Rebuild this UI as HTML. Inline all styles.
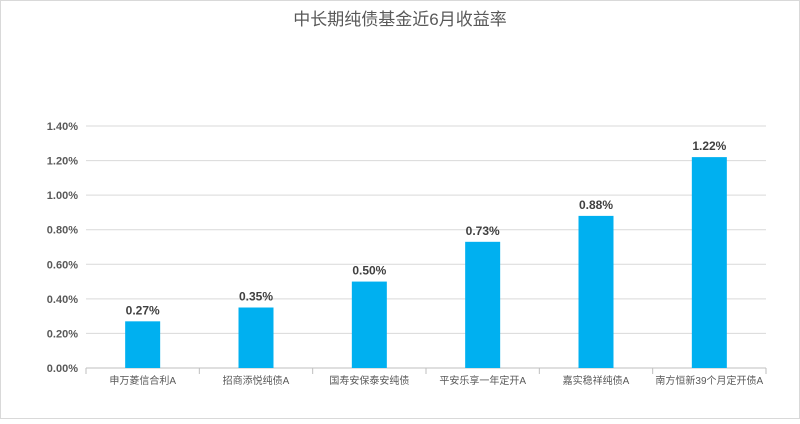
<!DOCTYPE html>
<html><head><meta charset="utf-8"><style>
body{margin:0;background:#fff;}
svg text{font-family:"Liberation Sans","Noto Sans CJK SC",sans-serif;}
</style></head><body>
<svg id="chart" width="800" height="419">
<rect x="0.5" y="0.5" width="799" height="418" fill="#fff" stroke="#d9d9d9"/>
<text x="400" y="25" text-anchor="middle" font-size="17" fill="#595959">中长期纯债基金近6月收益率</text>
<g id="grid"></g><g id="bars"></g><g id="labels"></g>
</svg>
<script>
const categories=["申万菱信合利A","招商添悦纯债A","国寿安保泰安纯债","平安乐享一年定开A","嘉实稳祥纯债A","南方恒新39个月定开债A"];
const values=[0.27,0.35,0.50,0.73,0.88,1.22];
const ticks=[0,0.2,0.4,0.6,0.8,1.0,1.2,1.4];
const ns="http://www.w3.org/2000/svg";
const x0=86,x1=766,yb=368,yt=126,max=1.4;
const y=v=>yb-(v/max)*(yb-yt);
const bw=(x1-x0)/categories.length;
function mk(t,a,p,txt){const e=document.createElementNS(ns,t);for(const k in a)e.setAttribute(k,a[k]);if(txt!==undefined)e.textContent=txt;p.appendChild(e);return e;}
const g=document.getElementById('grid'),b=document.getElementById('bars'),l=document.getElementById('labels');
ticks.forEach(t=>{
 const ln=mk('line',{x1:x0,x2:x1,y1:y(t),y2:y(t),stroke:t===0?'#bfbfbf':'#d9d9d9','stroke-width':1},g);
 
 
 const tx=mk('text',{x:78,y:y(t)+4,'text-anchor':'end','font-size':11,'font-weight':'bold',fill:'#595959'},g,t.toFixed(2)+'%');
 
 
});
for(let i=0;i<=categories.length;i++){
 const tk=mk('line',{x1:x0+i*bw,x2:x0+i*bw,y1:yb,y2:yb+6,stroke:'#bfbfbf'},g);
 
 
}
categories.forEach((c,i)=>{
 const cx=x0+bw*(i+0.5),v=values[i];
 const r=mk('rect',{x:cx-17.5,y:y(v),width:35,height:yb-y(v),fill:'#00b0f0'},b);
 
 
 const vl=mk('text',{x:cx,y:y(v)-7,'text-anchor':'middle','font-size':12,'font-weight':'bold',fill:'#404040'},l,v.toFixed(2)+'%');
 
 
 const cl=mk('text',{x:cx,y:yb+16,'text-anchor':'middle','font-size':10,fill:'#595959'},l,c);
 
 
});
</script>
</body></html>
